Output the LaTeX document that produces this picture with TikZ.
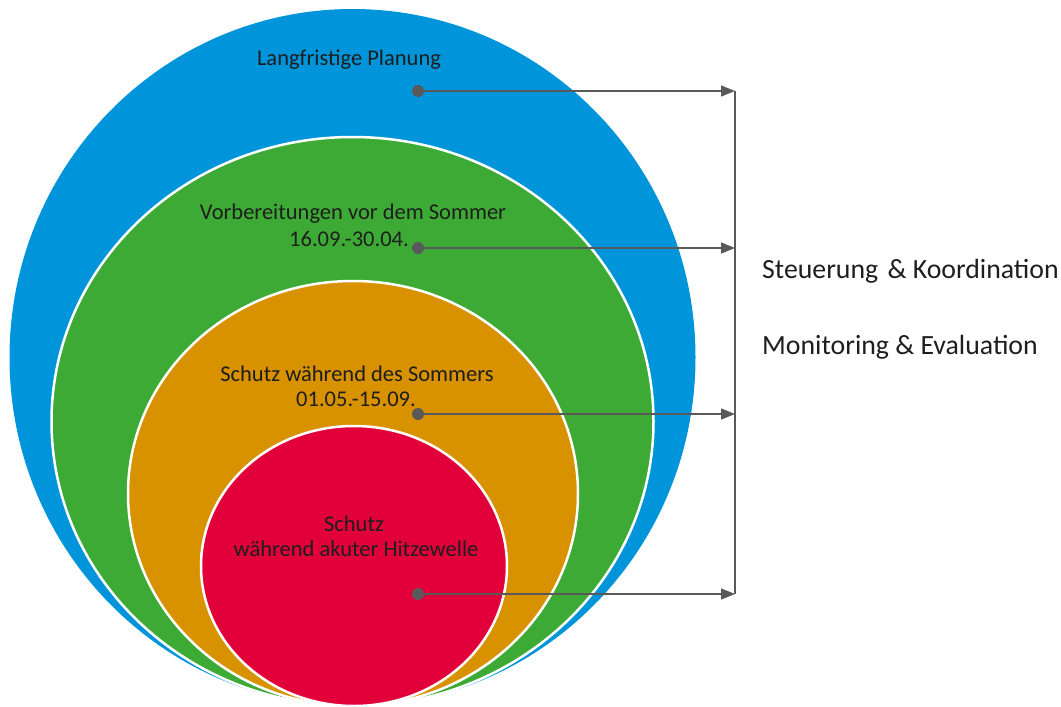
\documentclass[tikz,border=0pt]{standalone}
\usepackage{fontspec}
\setmainfont{Carlito}
\usetikzlibrary{arrows.meta}
\definecolor{cblue}{HTML}{0095DA}
\definecolor{cgreen}{HTML}{3DAA35}
\definecolor{corange}{HTML}{D89200}
\definecolor{cred}{HTML}{E2003A}
\definecolor{cgray}{HTML}{595959}
\definecolor{ctext}{HTML}{1E1E1E}
\tikzset{
  ring/.style={draw=white, line width=2.5pt},
  dot/.style={circle, fill=cgray, inner sep=0pt, minimum size=12pt},
  conn/.style={draw=cgray, line width=1.3pt, -{Triangle[length=14pt,width=11pt]}},
  lbl/.style={text=ctext, anchor=base, font=\fontsize{22.5}{25}\selectfont, inner sep=0pt},
  side/.style={text=ctext, anchor=base west, font=\fontsize{27.8}{30}\selectfont, inner sep=0pt}
}
\begin{document}
\begin{tikzpicture}[x=1pt,y=-1pt]
\useasboundingbox (0,0) rectangle (1061,707);
% ellipses
\fill[cblue] (352.5,357.5) ellipse [x radius=343, y radius=348.5];
\filldraw[fill=cgreen, ring] (352.5,421.5) ellipse [x radius=301, y radius=284.5];
\filldraw[fill=corange, ring] (353,493.5) ellipse [x radius=225, y radius=212.5];
\filldraw[fill=cred, ring] (354,566) ellipse [x radius=153, y radius=140];
% labels
\node[lbl] (t1) at (349,65) {Langfristige Planung};
\node[lbl] (t2a) at (353,219) {Vorbereitungen vor dem Sommer};
\node[lbl] (t2b) at (349,246) {16.09.-30.04.};
\node[lbl] (t3a) at (357,381) {Schutz während des Sommers};
\node[lbl] (t3b) at (356,406) {01.05.-15.09.};
\node[lbl] (t4a) at (354,531) {Schutz};
\node[lbl] (t4b) at (356,556) {während akuter Hitzewelle};
% dots
\node[dot] (d1) at (418,91) {};
\node[dot] (d2) at (418,248) {};
\node[dot] (d3) at (418,414) {};
\node[dot] (d4) at (418,594) {};
\coordinate (e1) at (735,91);
\coordinate (e2) at (735,248);
\coordinate (e3) at (735,414);
\coordinate (e4) at (735,594);
\draw[draw=cgray, line width=1.3pt] (e1) -- (e4);
\foreach \i in {1,2,3,4} {\draw[conn] (d\i.center) -- (e\i);}
% side texts
\node[side] (s1) at (762,278) {Steuerung\hspace{3pt} \& Koordination};
\node[side] (s2) at (762,354) {Monitoring \& Evaluation};
\end{tikzpicture}
\end{document}
